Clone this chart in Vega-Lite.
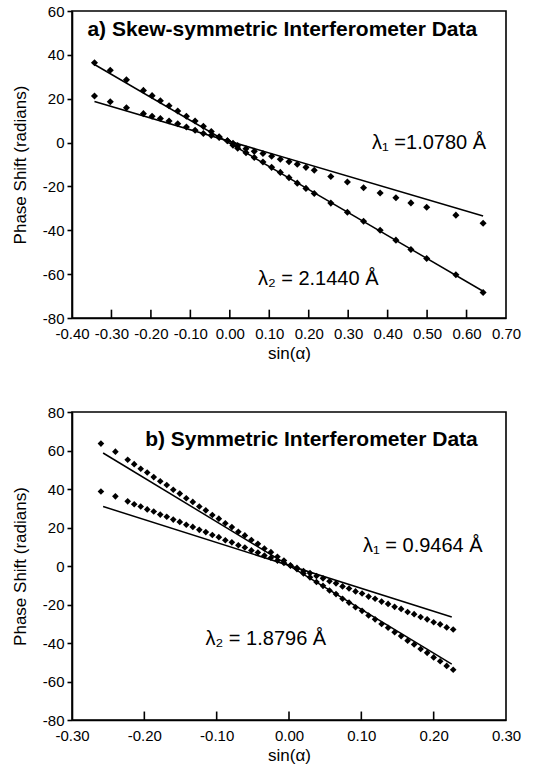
{
  "$schema": "https://vega.github.io/schema/vega-lite/v6.json",
  "background": "white",
  "padding": {"left": 10, "top": 3, "right": 4, "bottom": 4},
  "spacing": 42,
  "config": {
    "font": "Liberation Sans",
    "locale": {"number": {"decimal": ".", "thousands": ",", "grouping": [3], "currency": ["$", ""], "minus": "-"}},
    "view": {"stroke": "black", "strokeWidth": 1.6},
    "axis": {
      "grid": false,
      "domainColor": "black",
      "domainWidth": 1.6,
      "tickColor": "black",
      "labelColor": "black",
      "titleColor": "black",
      "labelFont": "Liberation Sans",
      "titleFont": "Liberation Sans",
      "labelFontSize": 15,
      "titleFontSize": 17,
      "titleFontWeight": "normal",
      "labelOverlap": false,
      "tickCount": 30
    },
    "axisX": {"ticks": false, "labelPadding": 8, "titlePadding": 4, "labelFlush": false},
    "axisY": {"tickSize": 5, "tickWidth": 1.6, "labelPadding": 3, "titlePadding": 13, "labelFlush": false}
  },
  "datasets": {
    "topPts": [
      {"s":"l2","x":-0.343,"y":36.4},{"s":"l2","x":-0.303,"y":33.0},{"s":"l2","x":-0.262,"y":28.6},{"s":"l2","x":-0.219,"y":23.8},
      {"s":"l2","x":-0.197,"y":21.4},{"s":"l2","x":-0.176,"y":19.1},{"s":"l2","x":-0.154,"y":16.8},{"s":"l2","x":-0.132,"y":14.4},
      {"s":"l2","x":-0.110,"y":12.0},{"s":"l2","x":-0.088,"y":9.8},{"s":"l2","x":-0.067,"y":7.4},{"s":"l2","x":-0.047,"y":5.0},
      {"s":"l2","x":-0.027,"y":2.6},{"s":"l2","x":-0.006,"y":0.8},{"s":"l2","x":0.008,"y":-1.2},{"s":"l2","x":0.020,"y":-2.6},
      {"s":"l2","x":0.041,"y":-4.6},{"s":"l2","x":0.062,"y":-6.8},{"s":"l2","x":0.084,"y":-8.9},{"s":"l2","x":0.106,"y":-11.3},
      {"s":"l2","x":0.128,"y":-13.6},{"s":"l2","x":0.150,"y":-16.0},{"s":"l2","x":0.171,"y":-18.5},{"s":"l2","x":0.193,"y":-20.9},
      {"s":"l2","x":0.214,"y":-23.2},{"s":"l2","x":0.256,"y":-27.6},{"s":"l2","x":0.298,"y":-31.8},{"s":"l2","x":0.339,"y":-35.9},
      {"s":"l2","x":0.381,"y":-40.0},{"s":"l2","x":0.421,"y":-44.5},{"s":"l2","x":0.459,"y":-48.8},{"s":"l2","x":0.499,"y":-52.9},
      {"s":"l2","x":0.573,"y":-60.3},{"s":"l2","x":0.642,"y":-68.4},
      {"s":"l1","x":-0.343,"y":21.2},{"s":"l1","x":-0.303,"y":18.6},{"s":"l1","x":-0.262,"y":15.9},{"s":"l1","x":-0.219,"y":13.2},
      {"s":"l1","x":-0.197,"y":12.0},{"s":"l1","x":-0.176,"y":11.0},{"s":"l1","x":-0.154,"y":9.8},{"s":"l1","x":-0.132,"y":8.6},
      {"s":"l1","x":-0.110,"y":7.1},{"s":"l1","x":-0.088,"y":5.6},{"s":"l1","x":-0.067,"y":4.1},{"s":"l1","x":-0.047,"y":3.2},
      {"s":"l1","x":-0.027,"y":2.3},{"s":"l1","x":-0.006,"y":0.8},{"s":"l1","x":0.008,"y":-0.3},{"s":"l1","x":0.020,"y":-1.4},
      {"s":"l1","x":0.041,"y":-2.8},{"s":"l1","x":0.062,"y":-4.0},{"s":"l1","x":0.084,"y":-5.0},{"s":"l1","x":0.106,"y":-6.2},
      {"s":"l1","x":0.128,"y":-7.6},{"s":"l1","x":0.150,"y":-8.7},{"s":"l1","x":0.171,"y":-9.9},{"s":"l1","x":0.193,"y":-11.3},
      {"s":"l1","x":0.214,"y":-12.6},{"s":"l1","x":0.256,"y":-15.5},{"s":"l1","x":0.298,"y":-18.0},{"s":"l1","x":0.339,"y":-20.6},
      {"s":"l1","x":0.381,"y":-23.0},{"s":"l1","x":0.421,"y":-25.2},{"s":"l1","x":0.459,"y":-27.5},{"s":"l1","x":0.499,"y":-29.5},
      {"s":"l1","x":0.573,"y":-33.1},{"s":"l1","x":0.642,"y":-36.8}
    ],
    "topFit": [
      {"s":"l2","x":-0.343,"y":35.6},{"s":"l2","x":0.642,"y":-67.8},
      {"s":"l1","x":-0.343,"y":18.7},{"s":"l1","x":0.642,"y":-33.5}
    ],
    "topTicks": [
      {"v":-0.3},{"v":-0.2},{"v":-0.1},{"v":0.0},{"v":0.1},{"v":0.2},{"v":0.3},{"v":0.4},{"v":0.5},{"v":0.6}
    ],
    "topTitle": [
      {"x":0.133,"y":51.3,"t":"a) Skew-symmetric Interferometer Data"}
    ],
    "topLab": [
      {"x":0.505,"y":0.0,"t":"λ₁ =1.0780 Å"},
      {"x":0.224,"y":-62.4,"t":"λ₂ = 2.1440 Å"}
    ],
    "botPts": [
      {"s":"l2","x":-0.260,"y":63.6},{"s":"l2","x":-0.240,"y":59.4},{"s":"l2","x":-0.223,"y":55.2},{"s":"l2","x":-0.214,"y":52.9},
      {"s":"l2","x":-0.205,"y":50.5},{"s":"l2","x":-0.196,"y":48.6},{"s":"l2","x":-0.187,"y":46.2},{"s":"l2","x":-0.178,"y":44.0},
      {"s":"l2","x":-0.169,"y":42.1},{"s":"l2","x":-0.160,"y":39.6},{"s":"l2","x":-0.151,"y":37.6},{"s":"l2","x":-0.142,"y":35.2},
      {"s":"l2","x":-0.133,"y":33.3},{"s":"l2","x":-0.124,"y":30.9},{"s":"l2","x":-0.115,"y":28.9},{"s":"l2","x":-0.106,"y":26.5},
      {"s":"l2","x":-0.097,"y":24.6},{"s":"l2","x":-0.088,"y":22.2},{"s":"l2","x":-0.079,"y":20.2},{"s":"l2","x":-0.070,"y":17.8},
      {"s":"l2","x":-0.061,"y":15.9},{"s":"l2","x":-0.052,"y":13.5},{"s":"l2","x":-0.043,"y":11.5},{"s":"l2","x":-0.034,"y":9.1},
      {"s":"l2","x":-0.025,"y":7.2},{"s":"l2","x":-0.016,"y":4.8},{"s":"l2","x":-0.007,"y":2.8},{"s":"l2","x":0.002,"y":0.4},
      {"s":"l2","x":0.011,"y":-1.6},{"s":"l2","x":0.020,"y":-3.9},{"s":"l2","x":0.029,"y":-5.9},{"s":"l2","x":0.038,"y":-8.3},
      {"s":"l2","x":0.047,"y":-10.3},{"s":"l2","x":0.056,"y":-12.7},{"s":"l2","x":0.065,"y":-14.6},{"s":"l2","x":0.074,"y":-17.0},
      {"s":"l2","x":0.083,"y":-19.0},{"s":"l2","x":0.092,"y":-21.4},{"s":"l2","x":0.101,"y":-23.3},{"s":"l2","x":0.110,"y":-25.7},
      {"s":"l2","x":0.119,"y":-27.7},{"s":"l2","x":0.128,"y":-30.1},{"s":"l2","x":0.137,"y":-32.1},{"s":"l2","x":0.146,"y":-34.4},
      {"s":"l2","x":0.155,"y":-36.4},{"s":"l2","x":0.164,"y":-38.8},{"s":"l2","x":0.173,"y":-40.8},{"s":"l2","x":0.182,"y":-43.1},
      {"s":"l2","x":0.191,"y":-45.1},{"s":"l2","x":0.200,"y":-47.5},{"s":"l2","x":0.209,"y":-49.5},{"s":"l2","x":0.218,"y":-51.9},
      {"s":"l2","x":0.227,"y":-53.9},
      {"s":"l1","x":-0.260,"y":38.7},{"s":"l1","x":-0.240,"y":36.2},{"s":"l1","x":-0.223,"y":33.6},{"s":"l1","x":-0.214,"y":32.1},
      {"s":"l1","x":-0.205,"y":30.9},{"s":"l1","x":-0.196,"y":29.4},{"s":"l1","x":-0.187,"y":28.3},{"s":"l1","x":-0.178,"y":26.7},
      {"s":"l1","x":-0.169,"y":25.6},{"s":"l1","x":-0.160,"y":24.1},{"s":"l1","x":-0.151,"y":22.9},{"s":"l1","x":-0.142,"y":21.4},
      {"s":"l1","x":-0.133,"y":20.3},{"s":"l1","x":-0.124,"y":18.8},{"s":"l1","x":-0.115,"y":17.6},{"s":"l1","x":-0.106,"y":16.1},
      {"s":"l1","x":-0.097,"y":15.0},{"s":"l1","x":-0.088,"y":13.4},{"s":"l1","x":-0.079,"y":12.3},{"s":"l1","x":-0.070,"y":10.8},
      {"s":"l1","x":-0.061,"y":9.6},{"s":"l1","x":-0.052,"y":8.1},{"s":"l1","x":-0.043,"y":7.0},{"s":"l1","x":-0.034,"y":5.4},
      {"s":"l1","x":-0.025,"y":4.3},{"s":"l1","x":-0.016,"y":2.8},{"s":"l1","x":-0.007,"y":1.6},{"s":"l1","x":0.002,"y":0.1},
      {"s":"l1","x":0.011,"y":-1.0},{"s":"l1","x":0.020,"y":-2.6},{"s":"l1","x":0.029,"y":-3.7},{"s":"l1","x":0.038,"y":-5.2},
      {"s":"l1","x":0.047,"y":-6.4},{"s":"l1","x":0.056,"y":-7.9},{"s":"l1","x":0.065,"y":-9.0},{"s":"l1","x":0.074,"y":-10.6},
      {"s":"l1","x":0.083,"y":-11.7},{"s":"l1","x":0.092,"y":-13.2},{"s":"l1","x":0.101,"y":-14.3},{"s":"l1","x":0.110,"y":-15.9},
      {"s":"l1","x":0.119,"y":-17.0},{"s":"l1","x":0.128,"y":-18.5},{"s":"l1","x":0.137,"y":-19.7},{"s":"l1","x":0.146,"y":-21.2},
      {"s":"l1","x":0.155,"y":-22.3},{"s":"l1","x":0.164,"y":-23.9},{"s":"l1","x":0.173,"y":-25.0},{"s":"l1","x":0.182,"y":-26.5},
      {"s":"l1","x":0.191,"y":-27.7},{"s":"l1","x":0.200,"y":-29.2},{"s":"l1","x":0.209,"y":-30.3},{"s":"l1","x":0.218,"y":-31.9},
      {"s":"l1","x":0.227,"y":-33.0}
    ],
    "botFit": [
      {"s":"l2","x":-0.257,"y":58.7},{"s":"l2","x":0.225,"y":-51.0},
      {"s":"l1","x":-0.257,"y":30.9},{"s":"l1","x":0.225,"y":-26.5}
    ],
    "botTicks": [
      {"v":-0.2},{"v":-0.1},{"v":0.0},{"v":0.1},{"v":0.2}
    ],
    "botTitle": [
      {"x":0.031,"y":65.6,"t":"b) Symmetric Interferometer Data"}
    ],
    "botLab": [
      {"x":0.185,"y":10.3,"t":"λ₁ = 0.9464 Å"},
      {"x":-0.032,"y":-37.7,"t":"λ₂ = 1.8796 Å"}
    ]
  },
  "vconcat": [
    {
      "width": 434,
      "height": 307,
      "layer": [
        {
          "data": {"name": "topFit"},
          "mark": {"type": "line", "color": "black", "strokeWidth": 1.5},
          "encoding": {
            "x": {"field": "x", "type": "quantitative", "scale": {"domain": [-0.4, 0.7], "nice": false, "zero": false},
                  "axis": {"title": "sin(α)", "values": [-0.4,-0.3,-0.2,-0.1,0,0.1,0.2,0.3,0.4,0.5,0.6,0.7], "format": ".2f", "labelOverlap": false, "tickCount": 30}},
            "y": {"field": "y", "type": "quantitative", "scale": {"domain": [-80, 60], "nice": false, "zero": false},
                  "axis": {"title": "Phase Shift (radians)", "values": [-80,-60,-40,-20,0,20,40,60], "labelOverlap": false, "tickCount": 30}},
            "detail": {"field": "s"}
          }
        },
        {
          "data": {"name": "topTicks"},
          "mark": {"type": "rule", "color": "black", "strokeWidth": 1.6, "opacity": 1},
          "encoding": {
            "x": {"field": "v", "type": "quantitative"},
            "y": {"datum": -80, "type": "quantitative"},
            "y2": {"datum": -76.2}
          }
        },
        {
          "data": {"name": "topPts"},
          "mark": {"type": "point", "shape": "diamond", "filled": true, "color": "black", "opacity": 1, "size": 50},
          "encoding": {
            "x": {"field": "x", "type": "quantitative"},
            "y": {"field": "y", "type": "quantitative"}
          }
        },
        {
          "data": {"name": "topTitle"},
          "mark": {"type": "text", "color": "black", "align": "center", "baseline": "middle", "font": "Liberation Sans", "fontWeight": "bold", "fontSize": 21},
          "encoding": {
            "x": {"field": "x", "type": "quantitative"},
            "y": {"field": "y", "type": "quantitative"},
            "text": {"field": "t"}
          }
        },
        {
          "data": {"name": "topLab"},
          "mark": {"type": "text", "color": "black", "align": "center", "baseline": "middle", "font": "Liberation Sans", "fontSize": 20},
          "encoding": {
            "x": {"field": "x", "type": "quantitative"},
            "y": {"field": "y", "type": "quantitative"},
            "text": {"field": "t"}
          }
        }
      ]
    },
    {
      "width": 434,
      "height": 308,
      "layer": [
        {
          "data": {"name": "botFit"},
          "mark": {"type": "line", "color": "black", "strokeWidth": 1.5},
          "encoding": {
            "x": {"field": "x", "type": "quantitative", "scale": {"domain": [-0.3, 0.3], "nice": false, "zero": false},
                  "axis": {"title": "sin(α)", "values": [-0.3,-0.2,-0.1,0,0.1,0.2,0.3], "format": ".2f", "labelOverlap": false, "tickCount": 30}},
            "y": {"field": "y", "type": "quantitative", "scale": {"domain": [-80, 80], "nice": false, "zero": false},
                  "axis": {"title": "Phase Shift (radians)", "values": [-80,-60,-40,-20,0,20,40,60,80], "labelOverlap": false, "tickCount": 30}},
            "detail": {"field": "s"}
          }
        },
        {
          "data": {"name": "botTicks"},
          "mark": {"type": "rule", "color": "black", "strokeWidth": 1.6, "opacity": 1},
          "encoding": {
            "x": {"field": "v", "type": "quantitative"},
            "y": {"datum": -80, "type": "quantitative"},
            "y2": {"datum": -75.6}
          }
        },
        {
          "data": {"name": "botPts"},
          "mark": {"type": "point", "shape": "diamond", "filled": true, "color": "black", "opacity": 1, "size": 44},
          "encoding": {
            "x": {"field": "x", "type": "quantitative"},
            "y": {"field": "y", "type": "quantitative"}
          }
        },
        {
          "data": {"name": "botTitle"},
          "mark": {"type": "text", "color": "black", "align": "center", "baseline": "middle", "font": "Liberation Sans", "fontWeight": "bold", "fontSize": 21},
          "encoding": {
            "x": {"field": "x", "type": "quantitative"},
            "y": {"field": "y", "type": "quantitative"},
            "text": {"field": "t"}
          }
        },
        {
          "data": {"name": "botLab"},
          "mark": {"type": "text", "color": "black", "align": "center", "baseline": "middle", "font": "Liberation Sans", "fontSize": 20},
          "encoding": {
            "x": {"field": "x", "type": "quantitative"},
            "y": {"field": "y", "type": "quantitative"},
            "text": {"field": "t"}
          }
        }
      ]
    }
  ]
}
